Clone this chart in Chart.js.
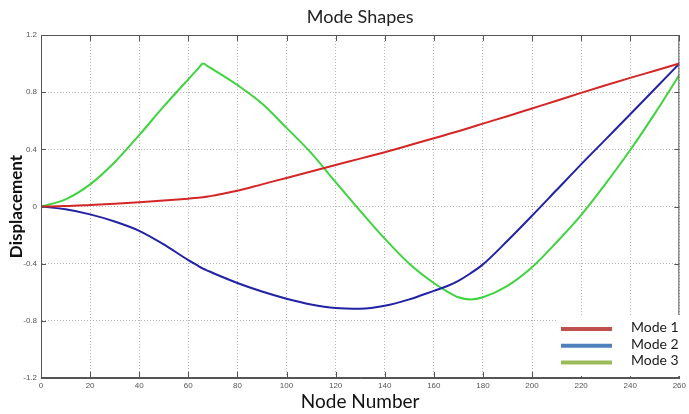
<!DOCTYPE html>
<html>
<head>
<meta charset="utf-8">
<title>Mode Shapes</title>
<script src="https://cdn.jsdelivr.net/npm/chart.js@4.4.1/dist/chart.umd.min.js"></script>
<style>
    html, body { margin: 0; padding: 0; background: #fff; }
    #wrap { width: 689px; height: 414px; }
</style>
</head>
<body>
<div id="wrap"><canvas id="modeChart"></canvas></div>
<script>
// node positions (x) shared by all three modes
const nodes = [0, 10, 20, 30, 40, 50, 60, 64, 66, 68, 70, 80, 90, 100, 110, 120, 130, 140,
    150, 160, 165, 170, 175, 180, 190, 200, 210, 220, 230, 240, 250, 260];

const mode1 = [0, 0.003, 0.011, 0.02, 0.03, 0.042, 0.055, 0.061, 0.065, 0.07, 0.076, 0.11, 0.155,
    0.2, 0.245, 0.29, 0.335, 0.38, 0.428, 0.477, 0.502, 0.527, 0.553, 0.58, 0.632, 0.686, 0.74,
    0.795, 0.848, 0.9, 0.95, 1.0];

const mode2 = [0, -0.02, -0.055, -0.105, -0.17, -0.265, -0.375, -0.415, -0.435, -0.45, -0.465,
    -0.535, -0.595, -0.645, -0.685, -0.71, -0.715, -0.695, -0.65, -0.59, -0.56, -0.52, -0.467,
    -0.405, -0.24, -0.065, 0.115, 0.295, 0.47, 0.645, 0.822, 1.0];

const mode3 = [0, 0.05, 0.155, 0.31, 0.5, 0.7, 0.89, 0.965, 1.0, 0.98, 0.96, 0.85, 0.72, 0.55,
    0.375, 0.17, -0.03, -0.225, -0.4, -0.535, -0.59, -0.635, -0.65, -0.635, -0.555, -0.425, -0.25,
    -0.06, 0.16, 0.395, 0.65, 0.92];

const seriesLabels = ['Mode 1', 'Mode 2', 'Mode 3'];
const lineColors = ['#d42626', '#2222a6', '#3fd43f'];
const legendColors = ['#c0504d', '#4f81bd', '#9bbb59'];

function toPoints(values) {
    return nodes.map(function (n, i) {
        return { x: n, y: values[i] };
    });
}

// frame round the plot + MATLAB style inward tick marks
const framePlugin = {
    id: 'frame',
    afterDatasetsDraw(chart) {
        const { ctx, chartArea: a, scales } = chart;
        ctx.save();
        ctx.strokeStyle = '#555';
        ctx.lineWidth = 1;
        ctx.strokeRect(a.left + 0.5, a.top + 0.5, a.right - a.left - 1, a.bottom - a.top - 1);
        ctx.beginPath();
        scales.x.ticks.forEach(function (t) {
            const px = Math.round(scales.x.getPixelForValue(t.value)) + 0.5;
            ctx.moveTo(px, a.bottom);
            ctx.lineTo(px, a.bottom - 6);
            ctx.moveTo(px, a.top);
            ctx.lineTo(px, a.top + 6);
        });
        scales.y.ticks.forEach(function (t) {
            const py = Math.round(scales.y.getPixelForValue(t.value)) + 0.5;
            ctx.moveTo(a.left, py);
            ctx.lineTo(a.left + 5, py);
            ctx.moveTo(a.right, py);
            ctx.lineTo(a.right - 5, py);
        });
        ctx.stroke();
        ctx.restore();
    }
};

// pasted legend box in the lower right corner
const legendBoxPlugin = {
    id: 'legendBox',
    afterDraw(chart) {
        const { ctx } = chart;
        ctx.save();
        ctx.fillStyle = '#fff';
        ctx.fillRect(556, 315, 133, 61);
        chart.data.datasets.forEach(function (ds, i) {
            const y = 329 + i * 16.7;
            ctx.strokeStyle = legendColors[i];
            ctx.lineWidth = 4;
            ctx.beginPath();
            ctx.moveTo(561, y);
            ctx.lineTo(612, y);
            ctx.stroke();
            ctx.fillStyle = '#1a1a1a';
            ctx.font = '14px Lato';
            ctx.textBaseline = 'middle';
            ctx.fillText(ds.label, 631, y - 1.5);
        });
        ctx.restore();
    }
};

const tickFont = { family: 'Arial, "Liberation Sans"', size: 8 };

const config = {
    type: 'line',
    data: {
        datasets: seriesLabels.map(function (label, i) {
            return {
                label: label,
                data: toPoints([mode1, mode2, mode3][i]),
                borderColor: lineColors[i],
                borderWidth: 2,
                pointRadius: 0,
                cubicInterpolationMode: 'monotone',
                fill: false
            };
        })
    },
    options: {
        responsive: true,
        maintainAspectRatio: false,
        animation: false,
        layout: { padding: { left: 0, right: 3, top: 0, bottom: 0 } },
        plugins: {
            legend: { display: false },
            tooltip: { enabled: false },
            title: {
                display: true,
                fullSize: false,
                text: 'Mode Shapes',
                color: '#222',
                font: { family: 'Lato', size: 18, weight: 'normal' },
                padding: { top: 6, bottom: 7.4 }
            }
        },
        scales: {
            x: {
                type: 'linear',
                min: 0,
                max: 260,
                ticks: { stepSize: 20, color: '#555', font: tickFont, padding: 3, maxRotation: 0 },
                grid: { color: '#b4b4b4', lineWidth: 1, drawTicks: false },
                border: { display: true, color: '#555', dash: [1, 2] },
                title: {
                    display: true,
                    text: 'Node Number',
                    color: '#111',
                    font: { family: 'Lato', size: 19 },
                    padding: { top: 0, bottom: 1 }
                },
                afterFit: function (scale) { scale.height = 36; }
            },
            y: {
                min: -1.2,
                max: 1.2,
                ticks: {
                    stepSize: 0.4,
                    color: '#555',
                    font: tickFont,
                    padding: 4,
                    callback: function (v) { return String(Math.round(v * 10) / 10); }
                },
                grid: { color: '#b4b4b4', lineWidth: 1, drawTicks: false },
                border: { display: true, color: '#555', dash: [1, 2] },
                title: {
                    display: true,
                    text: 'Displacement',
                    color: '#111',
                    font: { family: 'Lato', size: 17, weight: 'bold' },
                    padding: { top: 6, bottom: 0 }
                },
                afterFit: function (scale) { scale.width = 41; }
            }
        }
    },
    plugins: [framePlugin, legendBoxPlugin]
};

const modeChart = new Chart(document.getElementById('modeChart'), config);
</script>
</body>
</html>
